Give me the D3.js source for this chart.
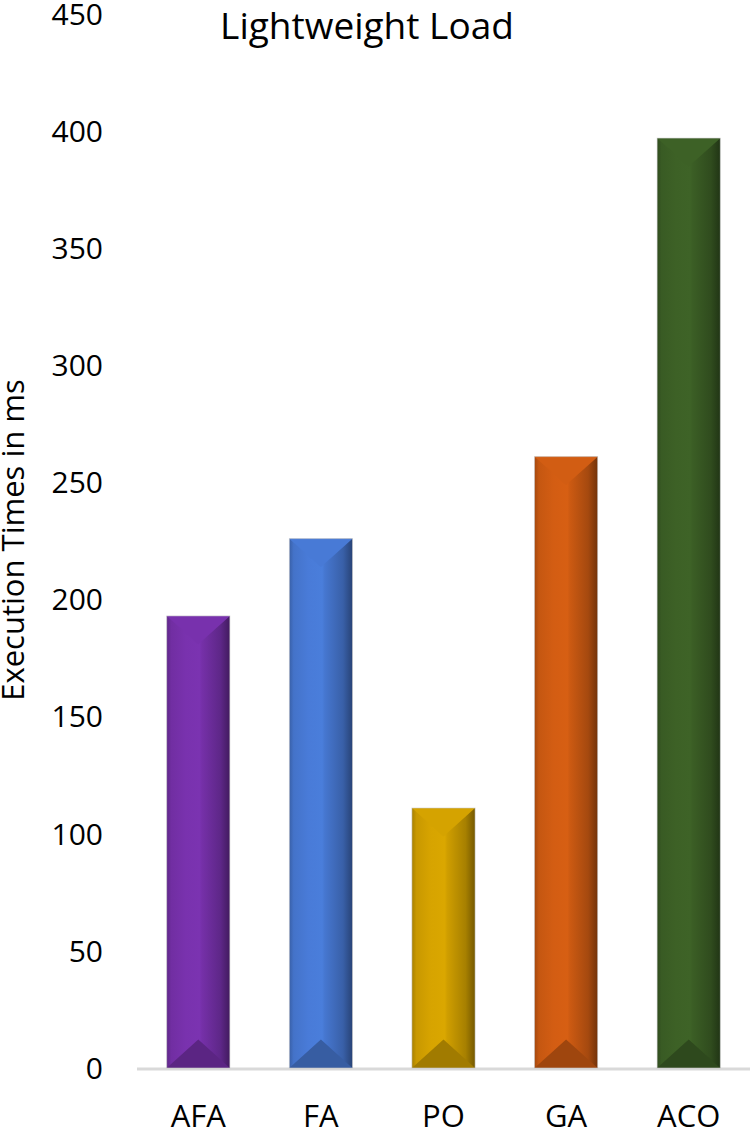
<!DOCTYPE html>
<html><head><meta charset="utf-8">
<script src="https://cdn.jsdelivr.net/npm/d3@7"></script>
<style>body{margin:0;background:#fff}svg{display:block}text{font-family:"Open Sans",sans-serif;fill:#000}</style>
</head><body>
<script>
const categories = ["AFA","FA","PO","GA","ACO"];
const values = [193,226,111,261,397];
const colors = ["#7530a8","#4677d0","#cf9e00","#cc5a12","#3b5e25"];
const yTicks = [0,50,100,150,200,250,300,350,400,450];
const title = "Lightweight Load";
const yTitle = "Execution Times in ms";

const W=751,H=1135;
const svg=d3.select("body").append("svg").attr("width",W).attr("height",H);
const x=d3.scaleBand().domain(categories).range([137,750]).paddingInner(0.485).paddingOuter(0.2425);
const y=d3.scaleLinear().domain([0,450]).range([1068,14]);

const defs=svg.append("defs");
categories.forEach((c,i)=>{
  const base=d3.color(colors[i]);
  const g=defs.append("linearGradient").attr("id","g"+i).attr("x1","0").attr("x2","1").attr("y1","0").attr("y2","0");
  [[0,base.darker(0.6)],[0.07,base.darker(0.1)],[0.3,base.brighter(0.1)],[0.52,base.brighter(0.15)],[0.56,base],[0.85,base.darker(0.6)],[1,base.darker(1.6)]]
    .forEach(([o,col])=>g.append("stop").attr("offset",o).attr("stop-color",col.formatHex()));
});

svg.append("line").attr("x1",137).attr("x2",750).attr("y1",y(0)+1).attr("y2",y(0)+1).attr("stroke","#d9d9d9").attr("stroke-width",3);

const bars=svg.append("g").selectAll("g").data(categories).join("g");
bars.each(function(c,i){
  const g=d3.select(this);
  const x0=x(c),bw=x.bandwidth(),x1=x0+bw,cx=x0+bw/2;
  const top=y(values[i]),bot=y(0);
  const d=bw*0.45;
  const base=d3.color(colors[i]);
  g.append("rect").attr("x",x0).attr("y",top).attr("width",bw).attr("height",bot-top).attr("fill",`url(#g${i})`);
  g.append("path").attr("d",`M${x0},${top}L${x1},${top}L${cx},${top+d}Z`).attr("fill",base.brighter(0.08).formatHex());
  g.append("path").attr("d",`M${x0},${bot}L${x1},${bot}L${cx},${bot-d}Z`).attr("fill",base.darker(0.7).formatHex());
  g.append("rect").attr("x",x0).attr("y",top).attr("width",bw).attr("height",bot-top).attr("fill","none").attr("stroke","#c8c8c8").attr("stroke-width",0.8).attr("stroke-opacity",0.7);
});

svg.append("g").selectAll("text").data(yTicks).join("text")
  .attr("x",103).attr("y",d=>y(d)).attr("dy","0.36em").attr("text-anchor","end")
  .style("font-size","30px").text(d=>d);

svg.append("g").selectAll("text").data(categories).join("text")
  .attr("x",d=>x(d)+x.bandwidth()/2).attr("y",1127).attr("text-anchor","middle")
  .style("font-size","31px").text(d=>d);

svg.append("text").attr("x",367).attr("y",39).attr("text-anchor","middle").style("font-size","37px").text(title);
svg.append("text").attr("transform","translate(13,540) rotate(-90)").attr("dy","0.36em").attr("text-anchor","middle").style("font-size","31px").text(yTitle);
</script>
</body></html>
